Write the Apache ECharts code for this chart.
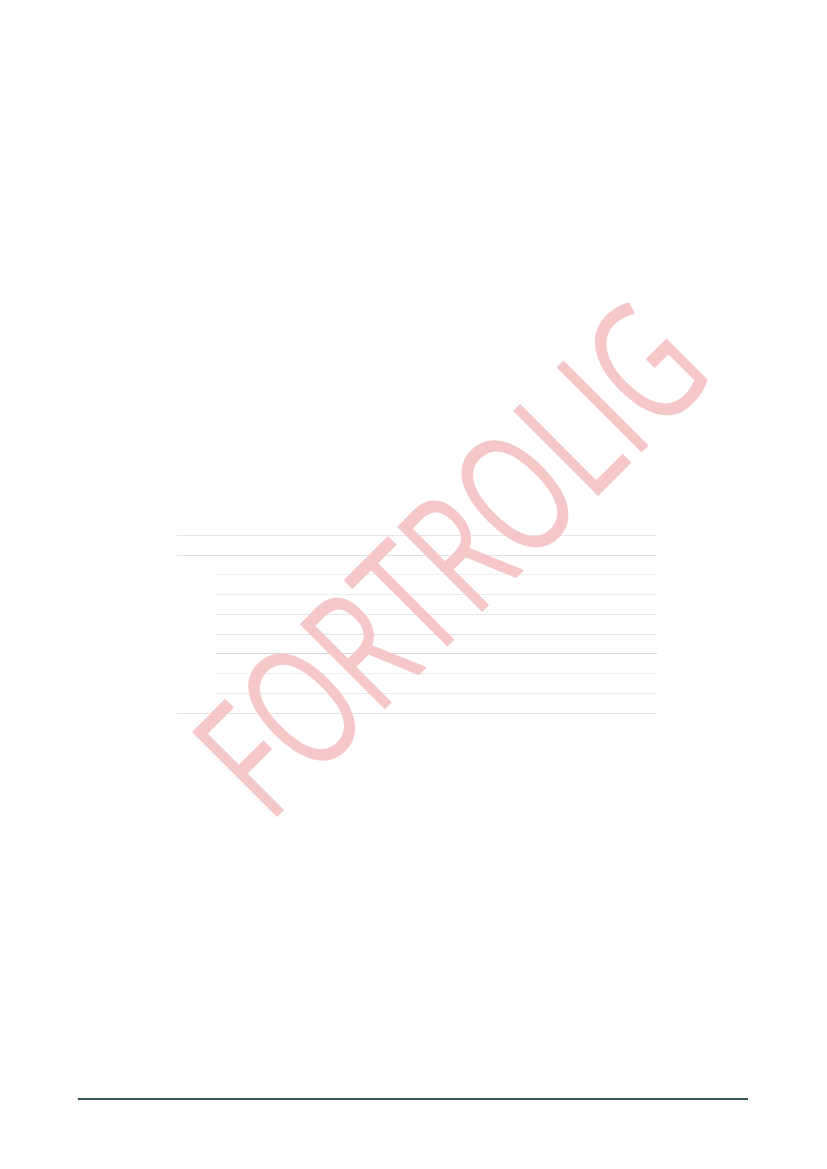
<!DOCTYPE html>
<html>
<head>
<meta charset="utf-8">
<script src="https://cdn.jsdelivr.net/npm/echarts@6/dist/echarts.min.js"></script>
<style>
html,body{margin:0;padding:0;background:#fff;}
#chart{width:827px;height:1169px;}
</style>
</head>
<body>
<div id="chart"></div>
<script>
// Table rule positions (row boundaries, 0 = bottom rule, 9 = top rule)
const ruleIndex = [0, 1, 2, 3, 4, 5, 6, 7, 8, 9];
const fullWidthRules = [0, 8, 9];
const indentedRules = [1, 2, 3, 4, 5, 6, 7];
const ruleGreys = ['#e3e3e3', '#ececec', '#efefef', '#d6d6d6', '#e3e3e3', '#e6e6e6', '#ececec', '#efefef', '#e2e2e2', '#e6e6e6'];
const watermarkText = 'FORTROLIG';

const chart = echarts.init(document.getElementById('chart'), null, {renderer: 'canvas'});

function colorsFor(list) {
  return ruleIndex.map(i => list.includes(i) ? ruleGreys[i] : 'rgba(0,0,0,0)');
}

// Watermark sizing: cap height ~120px, ink length ~614px, 45 degrees
const wmFamily = '"Open Sans"';
const wmWeight = 400;
const mctx = document.createElement('canvas').getContext('2d');
mctx.font = wmWeight + ' 160px ' + wmFamily;
mctx.textBaseline = 'alphabetic';
const capAt160 = mctx.measureText('F').actualBoundingBoxAscent || 114;
const wmSize = 160 * 120 / capAt160;
const wmFont = wmWeight + ' ' + wmSize.toFixed(2) + 'px ' + wmFamily;
mctx.font = wmFont;
mctx.textBaseline = 'middle';
mctx.textAlign = 'left';
const mm = mctx.measureText(watermarkText);
const inkL = -(mm.actualBoundingBoxLeft || 0);
const inkR = mm.actualBoundingBoxRight || mm.width;
const wmScale = 614 / (inkR - inkL);
const cxL = (inkL + inkR) / 2 * wmScale;
const cyL = ((mm.actualBoundingBoxDescent || 0) - (mm.actualBoundingBoxAscent || 0)) / 2;
const theta = Math.PI / 4;
const target = [451.6, 557.6];
const posX = target[0] - (cxL * Math.cos(theta) + cyL * Math.sin(theta));
const posY = target[1] - (-cxL * Math.sin(theta) + cyL * Math.cos(theta));

const hiddenX = {type: 'value', min: 0, max: 1, show: false};
function yAx(gi, list) {
  return {
    type: 'value', gridIndex: gi, min: ruleIndex[0], max: ruleIndex[ruleIndex.length - 1], interval: 1,
    axisLine: {show: false}, axisTick: {show: false}, axisLabel: {show: false},
    splitLine: {show: true, lineStyle: {color: colorsFor(list), width: 1}}
  };
}

chart.setOption({
  animation: false,
  backgroundColor: '#ffffff',
  grid: [
    {left: 177, right: 170, top: 535, height: 178},
    {left: 216, right: 170, top: 535, height: 178}
  ],
  xAxis: [Object.assign({gridIndex: 0}, hiddenX), Object.assign({gridIndex: 1}, hiddenX)],
  yAxis: [yAx(0, fullWidthRules), yAx(1, indentedRules)],
  series: [
    {type: 'line', xAxisIndex: 0, yAxisIndex: 0, data: [], silent: true},
    {type: 'line', xAxisIndex: 1, yAxisIndex: 1, data: [], silent: true}
  ],
  graphic: [
    {
      type: 'line', z: 5,
      shape: {x1: 78, y1: 1099, x2: 748, y2: 1099},
      style: {stroke: '#34545a', lineWidth: 2}
    },
    {
      type: 'text', z: 100,
      x: posX, y: posY,
      rotation: theta,
      scaleX: wmScale, scaleY: 1,
      style: {
        text: watermarkText,
        font: wmFont,
        fill: '#f5c7c8',
        align: 'left',
        verticalAlign: 'middle'
      }
    }
  ]
});
</script>
</body>
</html>
